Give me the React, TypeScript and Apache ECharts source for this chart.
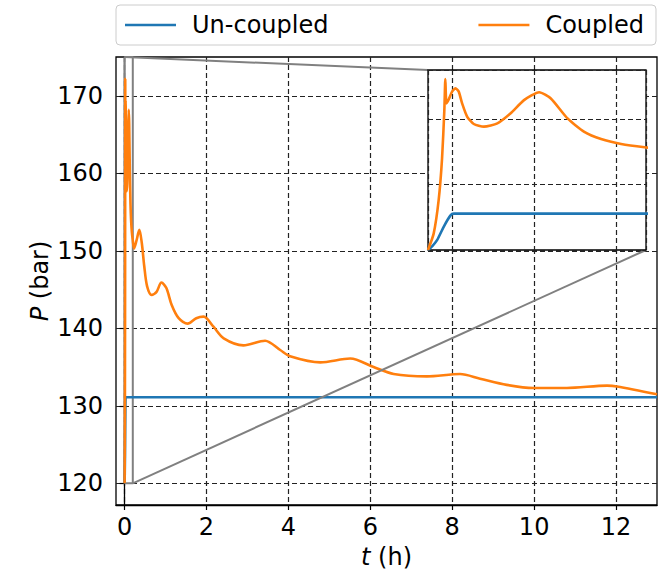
import React, { useEffect, useRef } from "react";
import * as echarts from "echarts";

// ---- data ----
const coupledT = [
  0, 0.0052, 0.0098, 0.0129, 0.015, 0.0159, 0.0169, 0.019, 0.0221, 0.0252, 0.0282, 0.0313, 0.036,
  0.042, 0.0513, 0.0636, 0.0759, 0.0881, 0.102, 0.1127, 0.128, 0.1434, 0.1588, 0.1772, 0.1987,
  0.23, 0.29, 0.36, 0.42, 0.48, 0.55, 0.66, 0.78, 0.9, 1.02, 1.15, 1.32, 1.54, 1.75, 1.93, 2.17,
  2.42, 2.9, 3.43, 3.8, 4.04, 4.78, 5.51, 6.08, 6.57, 7.38, 8.19, 8.68, 9.33, 9.98, 10.8, 11.78,
  12.02, 13.0,
];
const coupledP = [
  120, 125, 135.3, 148, 162.8, 172.2, 164.8, 166, 168.4, 169.4, 168.4, 164.8, 160.7,
  158.5, 157.7, 158.7, 161.8, 165.8, 168.2, 166.3, 160.2, 156.1, 153.9, 152.4, 151.4,
  150.3, 151.3, 152.7, 151.0, 148, 145.4, 144.3, 144.7, 145.9, 145.2, 143.0, 141.3, 140.6, 141.3, 141.5, 140.2,
  138.7, 137.8, 138.4, 137.2, 136.4, 135.6, 136.1, 135.0, 134.1, 133.8, 134.1, 133.5, 132.7, 132.3, 132.3, 132.6,
  132.5, 131.5,
];
const uncoupledT = [0, 0.004, 0.0083, 0.0144, 0.0205, 0.0236, 0.03, 13.0];
const uncoupledP = [120, 121.2, 123, 127.1, 130.5, 131.1, 131.1, 131.1];

const xTicks = [0, 2, 4, 6, 8, 10, 12];
const yTicks = [120, 130, 140, 150, 160, 170];
const insetX = [0, 0.2];
const insetY = [120, 175];

const FONT = "DejaVu Sans";
const BLUE = "#1f77b4";
const ORANGE = "#ff7f0e";
const GRAY = "#808080";

export default function App() {
  const ref = useRef<HTMLDivElement>(null);
  useEffect(() => {
    if (!ref.current) return;
    const chart = echarts.init(ref.current, undefined, { renderer: "svg" });
    const coupled = coupledT.map((t, i) => [t, coupledP[i]]);
    const uncoupled = uncoupledT.map((t, i) => [t, uncoupledP[i]]);
    const box = [
      [insetX[0], insetY[0]],
      [insetX[1], insetY[0]],
      [insetX[1], insetY[1]],
      [insetX[0], insetY[1]],
      [insetX[0], insetY[0]],
    ];
    const dashed = { color: "#222", width: 1.2, type: [5, 3] as any };
    const nameStyle = {
      fontFamily: FONT, fontSize: 24, color: "#000",
      rich: { i: { fontFamily: FONT, fontSize: 24, fontStyle: "italic", color: "#000" } },
    };
    const option: any = {
      animation: false,
      backgroundColor: "#fff",
      textStyle: { fontFamily: FONT },
      legend: {
        data: ["Un-coupled", "Coupled"],
        left: 116,
        top: 5,
        padding: [8, 12, 8, 9],
        itemGap: 150,
        icon: "rect",
        itemWidth: 51,
        itemHeight: 2.6,
        borderColor: "#cccccc",
        borderWidth: 1,
        borderRadius: 4,
        backgroundColor: "#fff",
        textStyle: { fontFamily: FONT, fontSize: 24, color: "#000", padding: [0, 0, 0, 11] },
      },
      grid: [
        { left: 116, top: 57, right: 12, bottom: 66, show: true, borderColor: "#000", borderWidth: 1.3, z: 1, outerBoundsMode: "none", containLabel: false },
        { left: 428, top: 70, width: 218, height: 180, show: true, backgroundColor: "#fff", borderColor: "#000", borderWidth: 1.3, z: 5, outerBoundsMode: "none", containLabel: false },
      ],
      xAxis: [
        {
          type: "value", gridIndex: 0, min: -0.21, max: 13, splitNumber: 7, z: 1,
          name: "{i|t} (h)", nameLocation: "middle", nameGap: 40, nameMoveOverlap: false,
          nameTextStyle: nameStyle,
          axisLine: { show: true, lineStyle: { color: "#000", width: 1.3 } },
          axisTick: { show: true, length: 5, lineStyle: { color: "#000", width: 1.2 }, customValues: xTicks },
          axisLabel: { fontFamily: FONT, fontSize: 24, color: "#000", margin: 10, customValues: xTicks },
          splitLine: { show: true, lineStyle: dashed },
        },
        {
          type: "value", gridIndex: 1, min: insetX[0], max: insetX[1], z: 6,
          axisLine: { show: false }, axisTick: { show: false }, axisLabel: { show: false }, splitLine: { show: false },
        },
        {
          // helper axis only for the inset's vertical grid lines
          type: "value", gridIndex: 1, min: 7.405, max: 12.73, splitNumber: 3, z: 6, position: "bottom",
          axisLine: { show: false }, axisTick: { show: false }, axisLabel: { show: false },
          splitLine: { show: true, lineStyle: dashed },
        },
      ],
      yAxis: [
        {
          type: "value", gridIndex: 0, min: 117.2, max: 175, splitNumber: 6, z: 1,
          name: "{i|P} (bar)", nameLocation: "middle", nameGap: 64, nameMoveOverlap: false,
          nameTextStyle: nameStyle,
          axisLine: { show: true, lineStyle: { color: "#000", width: 1.3 } },
          axisTick: { show: true, length: 5, lineStyle: { color: "#000", width: 1.2 }, customValues: yTicks },
          axisLabel: { fontFamily: FONT, fontSize: 24, color: "#000", margin: 13, customValues: yTicks },
          splitLine: { show: true, lineStyle: dashed },
        },
        {
          type: "value", gridIndex: 1, min: insetY[0], max: insetY[1], interval: 20, z: 6,
          axisLine: { show: false }, axisTick: { show: false }, axisLabel: { show: false },
          splitLine: { show: true, lineStyle: dashed },
        },
      ],
      series: [
        {
          name: "Un-coupled", type: "line", xAxisIndex: 0, yAxisIndex: 0, data: uncoupled,
          showSymbol: false, symbol: "none", lineStyle: { color: BLUE, width: 2.6 }, itemStyle: { color: BLUE }, z: 3,
        },
        {
          name: "Coupled", type: "line", xAxisIndex: 0, yAxisIndex: 0, data: coupled, smooth: 0.3,
          showSymbol: false, symbol: "none", lineStyle: { color: ORANGE, width: 2.6 }, itemStyle: { color: ORANGE }, z: 3,
        },
        {
          name: "zoomBox", type: "line", xAxisIndex: 0, yAxisIndex: 0, data: box, silent: true,
          showSymbol: false, symbol: "none", lineStyle: { color: GRAY, width: 2 }, z: 2,
        },
        {
          name: "Un-coupled", type: "line", xAxisIndex: 1, yAxisIndex: 1, data: uncoupled, smooth: 0.2,
          showSymbol: false, symbol: "none", lineStyle: { color: BLUE, width: 2.6 }, itemStyle: { color: BLUE }, z: 7,
        },
        {
          name: "Coupled", type: "line", xAxisIndex: 1, yAxisIndex: 1, data: coupled, smooth: 0.2,
          showSymbol: false, symbol: "none", lineStyle: { color: ORANGE, width: 2.6 }, itemStyle: { color: ORANGE }, z: 7,
        },
      ],
    };
    chart.setOption(option);
    const a1 = chart.convertToPixel({ xAxisIndex: 0, yAxisIndex: 0 }, [insetX[0], insetY[1]]) as number[];
    const b1 = chart.convertToPixel({ xAxisIndex: 1, yAxisIndex: 1 }, [insetX[0], insetY[1]]) as number[];
    const a2 = chart.convertToPixel({ xAxisIndex: 0, yAxisIndex: 0 }, [insetX[1], insetY[0]]) as number[];
    const b2 = chart.convertToPixel({ xAxisIndex: 1, yAxisIndex: 1 }, [insetX[1], insetY[0]]) as number[];
    chart.setOption({
      graphic: [
        { type: "line", z: 4, silent: true, shape: { x1: a1[0], y1: a1[1], x2: b1[0], y2: b1[1] }, style: { stroke: GRAY, lineWidth: 2 } },
        { type: "line", z: 4, silent: true, shape: { x1: a2[0], y1: a2[1], x2: b2[0], y2: b2[1] }, style: { stroke: GRAY, lineWidth: 2 } },
      ],
    });
    return () => chart.dispose();
  }, []);
  return <div ref={ref} style={{ position: "fixed", left: 0, top: 0, width: 669, height: 571 }} />;
}
